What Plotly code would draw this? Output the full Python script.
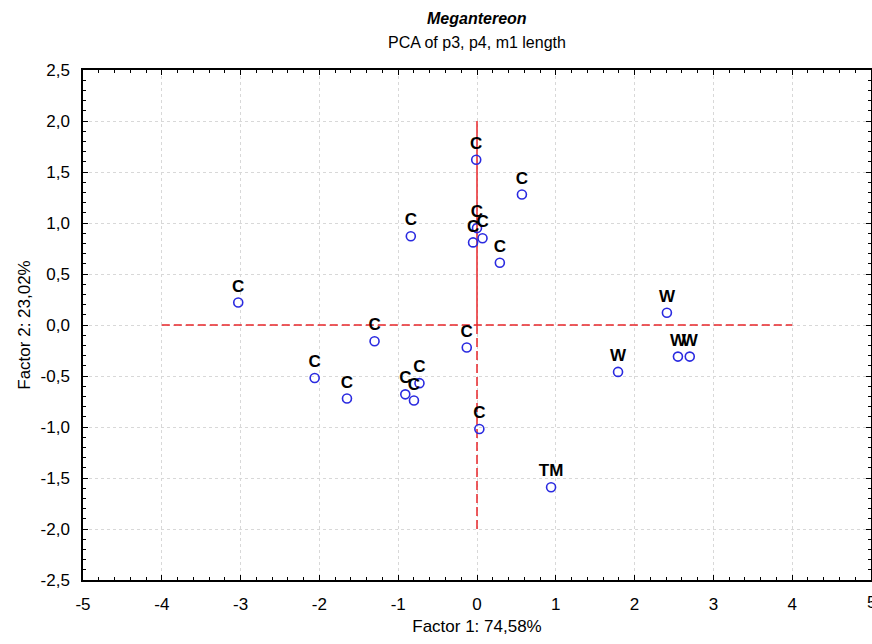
import plotly.graph_objects as go

# Data
factor1 = [-0.01, 0.57, -0.84, -0.05, 0.07, 0.00, 0.29,
           -3.03, -1.30, -2.06, -1.65, -0.91, -0.80, -0.73, -0.13, 0.03,
           0.94, 2.41, 1.79, 2.55, 2.70]
factor2 = [1.62, 1.28, 0.87, 0.81, 0.85, 0.95, 0.61,
           0.22, -0.16, -0.52, -0.72, -0.68, -0.74, -0.57, -0.22, -1.02,
           -1.59, 0.12, -0.46, -0.31, -0.31]
labels = ["C", "C", "C", "C", "C", "C", "C",
          "C", "C", "C", "C", "C", "C", "C", "C", "C",
          "TM", "W", "W", "W", "W"]

x_ticks = [-5, -4, -3, -2, -1, 0, 1, 2, 3, 4, 5]
y_ticks = [-2.5, -2.0, -1.5, -1.0, -0.5, 0.0, 0.5, 1.0, 1.5, 2.0, 2.5]

FONT = "Liberation Sans, Arial, sans-serif"
RED = "#e8262a"

fig = go.Figure()
fig.add_trace(go.Scatter(
    x=factor1, y=factor2, mode="markers+text", text=labels,
    textposition="top center",
    textfont=dict(family=FONT, size=17, color="black", weight="bold"),
    marker=dict(symbol="circle-open", size=9, color="#2a2ae0",
                line=dict(width=1.6, color="#2a2ae0")),
    cliponaxis=False, showlegend=False, hoverinfo="skip",
))

# Reference lines at the origin
fig.add_shape(type="line", xref="x", yref="y", x0=-4, x1=4, y0=0, y1=0,
              line=dict(color=RED, width=1.5, dash="8px,4px"), layer="between")
fig.add_shape(type="line", xref="x", yref="y", x0=0, x1=0, y0=0, y1=2,
              line=dict(color=RED, width=1.5), layer="between")
fig.add_shape(type="line", xref="x", yref="y", x0=0, x1=0, y0=-2, y1=0,
              line=dict(color=RED, width=1.5, dash="9px,4px"), layer="between")

axis_common = dict(
    showline=True, linecolor="black", linewidth=1.5, mirror="ticks",
    ticks="inside", ticklen=5, tickcolor="black", tickwidth=1,
    showgrid=True, gridcolor="#d8d8d8", griddash="dot", gridwidth=1,
    zeroline=False, automargin=False,
    tickfont=dict(family=FONT, size=17, color="black"),
    ticklabelstandoff=8,
)

fig.update_xaxes(
    range=[-5, 5], tickvals=x_ticks[:-1], ticktext=[str(v) for v in x_ticks[:-1]],
    minor=dict(ticks="inside", dtick=0.2, ticklen=3, tickcolor="black", showgrid=False),
    title=dict(text="Factor 1: 74,58%", font=dict(family=FONT, size=17, color="black"), standoff=7),
    **axis_common,
)
fig.update_yaxes(
    range=[-2.5, 2.5], tickvals=y_ticks,
    ticktext=[f"{v:.1f}".replace(".", ",") for v in y_ticks],
    minor=dict(ticks="inside", dtick=0.1, ticklen=3, tickcolor="black", showgrid=False),
    title=dict(text="Factor 2: 23,02%", font=dict(family=FONT, size=17, color="black"), standoff=6),
    **axis_common,
)

fig.update_layout(
    width=872, height=644, autosize=False,
    margin=dict(l=83, r=1, t=70, b=64),
    paper_bgcolor="white", plot_bgcolor="white",
    font=dict(family=FONT, color="black"),
    annotations=[
        dict(text="<b><i>Megantereon</i></b>", x=0.5, y=1, xref="paper", yref="paper",
             yshift=62, showarrow=False, font=dict(family=FONT, size=16, color="black")),
        dict(text="PCA of p3, p4, m1 length", x=0.5, y=1, xref="paper", yref="paper",
             yshift=38, showarrow=False, font=dict(family=FONT, size=16, color="black")),
        # last x tick label, half cut by the page edge as in the reference
        dict(text=str(x_ticks[-1]), x=x_ticks[-1], y=0, xref="x", yref="paper",
             yanchor="top", yshift=-11, showarrow=False,
             font=dict(family=FONT, size=17, color="black")),
    ],
)

post = (
    "document.documentElement.style.margin='0';"
    "document.body.style.margin='0';"
    "document.body.style.overflow='hidden';"
    "var gd=document.getElementById('{plot_id}');"
    "Plotly.relayout(gd,{width:872,height:644});"
)
fig.write_html("out.html", post_script=post,
               config={"responsive": False, "displayModeBar": False})
